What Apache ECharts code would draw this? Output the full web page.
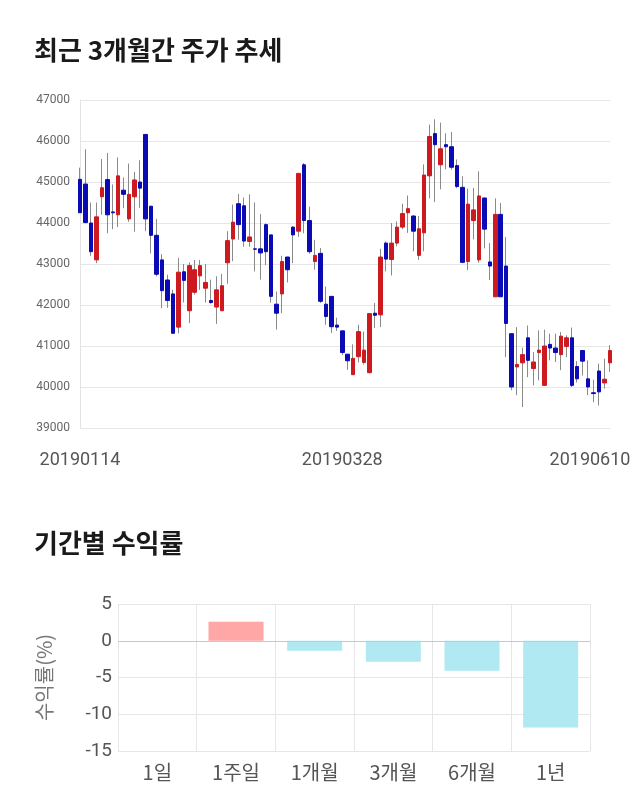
<!DOCTYPE html>
<html>
<head>
<meta charset="utf-8">
<script src="https://cdn.jsdelivr.net/npm/echarts@6/dist/echarts.min.js"></script>
<style>
html,body{margin:0;padding:0;background:#fff;}
#c{width:640px;height:810px;}
</style>
</head>
<body>
<div id="c"></div>
<script>
var dates = ['20190114','20190115','20190116','20190117','20190118','20190121','20190122','20190123','20190124','20190125','20190128','20190129','20190130','20190131',
'20190207','20190208','20190211','20190212','20190213','20190214','20190215','20190218','20190219','20190220','20190221','20190222','20190225','20190226','20190227','20190228',
'20190304','20190305','20190306','20190307','20190308','20190311','20190312','20190313','20190314','20190315','20190318','20190319','20190320','20190321','20190322','20190325','20190326','20190327','20190328','20190329',
'20190401','20190402','20190403','20190404','20190405','20190408','20190409','20190410','20190411','20190412','20190415','20190416','20190417','20190418','20190419','20190422','20190423','20190424','20190425','20190426','20190429','20190430',
'20190502','20190503','20190507','20190508','20190509','20190510','20190513','20190514','20190515','20190516','20190517','20190520','20190521','20190522','20190523','20190524','20190527','20190528','20190529','20190530','20190531',
'20190603','20190604','20190605','20190607','20190610'];

var opens  = [45065,44950,44000,43100,44640,45060,44270,44200,44800,44100,44640,45000,46160,44410,43700,43100,42610,42270,41460,42810,
41860,42310,42710,42410,42110,41950,41860,43030,43610,44470,44420,43550,43370,43370,43960,43710,42020,42270,43170,43900,
43800,45420,44060,43060,43260,42020,42210,41510,41370,40800,40300,40740,40600,40350,41800,41760,43510,43110,43510,43900,
44250,44170,43210,43760,45150,46180,45420,45910,45860,45400,44870,43060,44060,43100,44610,43050,42200,44210,42950,41300,
40490,40590,41200,40450,40840,40040,41040,40950,40790,40990,41200,40500,40890,40200,39860,40390,40100,40590];
var closes = [44250,44010,43300,44150,44860,44200,44250,45150,44700,44700,45050,44850,44100,43700,42750,42350,42110,41310,42800,42600,
42960,42860,42960,42550,42060,42370,42470,43570,44020,43960,43560,43660,43360,43270,43300,42210,41800,43060,42860,43710,
45210,44060,43300,43210,42090,41720,41470,41460,40840,40640,40700,41350,40900,41790,41750,43170,43120,43510,43900,44230,
44350,43800,43860,45170,46110,45910,45810,45860,45360,44890,43040,44460,44320,44660,43850,42950,44210,42200,41550,40000,
40550,40790,40650,40610,40900,41000,40950,40840,41240,41200,40040,40200,40630,40000,39840,39880,40190,40890];
var lows   = [44250,44000,43200,43020,44200,43750,43850,43900,44360,44030,43790,44370,43800,43260,42700,41920,41930,41300,41310,42060,
41560,42250,42370,42060,42030,41540,41860,42520,43070,43590,43420,43420,42820,42620,42970,42060,41400,41800,42550,43020,
43660,43750,43250,42860,42050,41520,41320,41370,40780,40420,40300,40600,40550,40330,41440,41460,42820,42720,43430,43850,
43760,43310,43100,43310,44600,44510,44820,45310,45300,44850,43020,42850,43600,43030,43380,42610,42200,42200,40730,39920,
39800,39510,40240,40040,40160,40040,40650,40610,40410,40730,40000,40110,40280,39800,39630,39550,39960,40370];
var highs  = [45350,45800,44500,44500,45560,45710,44940,45600,45110,45450,45250,45530,46160,44410,44100,43240,42740,42370,43150,43000,
43040,43100,43100,43000,42620,42700,42760,43800,44450,44710,44620,44700,44500,44220,43990,43710,42330,43200,43170,43920,
45220,45460,44400,43590,43390,42450,42210,41690,41370,40800,41040,41520,41350,41790,42050,43370,43550,44000,44040,44470,
44670,44190,44170,45430,46400,46530,46450,46190,46220,45550,45140,44840,44860,45260,44620,43510,44600,44490,43660,41300,
41460,40960,41500,40850,41380,41400,41300,41300,41340,41260,41450,40630,40900,40650,40180,40570,40690,41020];

var yTicksTop = [39000, 47000, 1000];
var periods = ['1일','1주일','1개월','3개월','6개월','1년'];
var returns = [0, 2.6, -1.36, -2.86, -4.09, -11.8];

var wickData = [], bodyData = [];
for (var i = 0; i < opens.length; i++) {
  wickData.push([opens[i], closes[i], lows[i], highs[i]]);
  bodyData.push([opens[i], closes[i], Math.min(opens[i], closes[i]), Math.max(opens[i], closes[i])]);
}
var labelIdx = {0:1, 48:1};
labelIdx[dates.length - 1] = 1;

var chart = echarts.init(document.getElementById('c'), null, {renderer: 'canvas'});
var FONT = '"Noto Sans CJK KR", "Noto Sans", sans-serif';
var NUMF = 'Roboto, "Noto Sans", sans-serif';
chart.setOption({
  animation: false,
  textStyle: {fontFamily: FONT},
  title: [
    {text: '최근 3개월간 주가 추세', left: 29, top: 32, textStyle: {fontSize: 26, fontWeight: 'bold', color: '#1a1a1a', fontFamily: FONT}},
    {text: '기간별 수익률', left: 29, top: 525, textStyle: {fontSize: 26, fontWeight: 'bold', color: '#1a1a1a', fontFamily: FONT}}
  ],
  grid: [
    {left: 80, right: 30, top: 100, height: 328},
    {left: 118, right: 50, top: 604, height: 147}
  ],
  xAxis: [
    {
      type: 'category', gridIndex: 0, data: dates, boundaryGap: false,
      axisLine: {show: false}, axisTick: {show: false}, splitLine: {show: false},
      axisLabel: {
        interval: function (idx) { return !!labelIdx[idx]; },
        fontSize: 18, color: '#555', margin: 23, fontFamily: NUMF,
        formatter: function (v, idx) { return idx === dates.length - 1 ? '{l|' + v + '}' : v; },
        rich: {l: {fontSize: 18, color: '#555', padding: [0, 40, 0, 0], fontFamily: NUMF}}
      }
    },
    {
      type: 'category', gridIndex: 1, data: periods, boundaryGap: true,
      axisLine: {show: false},
      axisTick: {show: true, length: 7, lineStyle: {color: '#e3e3e3'}},
      splitLine: {show: true, lineStyle: {color: '#e6e6e6'}},
      axisLabel: {fontSize: 20, color: '#555', margin: 11, fontFamily: FONT}
    }
  ],
  yAxis: [
    {
      type: 'value', gridIndex: 0, min: yTicksTop[0], max: yTicksTop[1], interval: yTicksTop[2],
      axisLine: {show: true, lineStyle: {color: '#e3e3e3'}}, axisTick: {show: false},
      splitLine: {lineStyle: {color: '#e6e6e6'}},
      axisLabel: {fontSize: 12, color: '#666', margin: 10, fontFamily: NUMF,
        formatter: function (v) { return String(v); }}
    },
    {
      type: 'value', gridIndex: 1, min: -15, max: 5, interval: 5,
      axisLine: {show: false}, axisTick: {show: false},
      splitLine: {lineStyle: {color: '#e6e6e6'}},
      axisLabel: {fontSize: 19, color: '#555', margin: 6, fontFamily: NUMF},
      name: '수익률(%)', nameLocation: 'middle', nameRotate: 90, nameGap: 64,
      nameTextStyle: {fontSize: 20, color: '#777', fontFamily: FONT}
    }
  ],
  series: [
    {
      type: 'candlestick', xAxisIndex: 0, yAxisIndex: 0, data: wickData, barWidth: 1,
      itemStyle: {color: '#8a8a8a', color0: '#8a8a8a', borderColor: '#8a8a8a', borderColor0: '#8a8a8a', borderWidth: 1}
    },
    {
      type: 'candlestick', xAxisIndex: 0, yAxisIndex: 0, data: bodyData, barWidth: 4,
      itemStyle: {color: '#cc1a1f', color0: '#0b0bb5', borderColor: '#cc1a1f', borderColor0: '#0b0bb5', borderWidth: 1}
    },
    {
      type: 'bar', xAxisIndex: 1, yAxisIndex: 1, data: returns, barWidth: 55,
      itemStyle: {
        color: function (p) { return p.value >= 0 ? '#ffa6a6' : '#b1e9f3'; },
        borderWidth: 0
      },
      markLine: {
        silent: true, symbol: 'none', label: {show: false},
        lineStyle: {color: '#c8c8c8', type: 'solid', width: 1},
        data: [{yAxis: 0}]
      }
    }
  ]
});
</script>
</body>
</html>
